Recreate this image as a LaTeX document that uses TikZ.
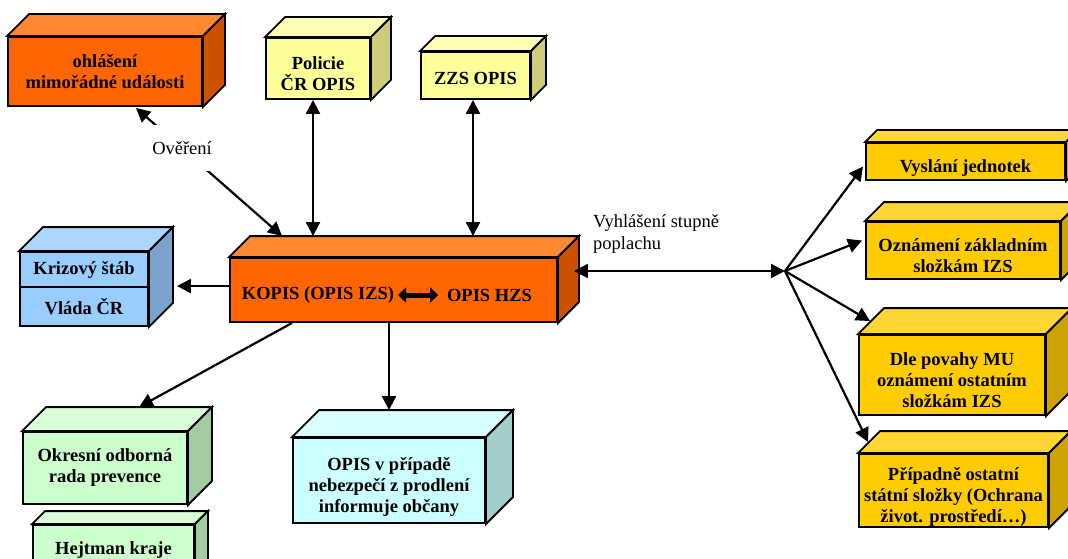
\documentclass[tikz,border=0pt]{standalone}
\usepackage{fontspec}
\setmainfont{Liberation Serif}
\usetikzlibrary{arrows.meta}

\definecolor{orng}{HTML}{FF6600}
\definecolor{orngtop}{HTML}{FF8833}
\definecolor{orngside}{HTML}{CC5200}
\definecolor{lemon}{HTML}{FFFF99}
\definecolor{lemontop}{HTML}{FFFFB3}
\definecolor{lemonside}{HTML}{CCCC7A}
\definecolor{sky}{HTML}{99CCFF}
\definecolor{skytop}{HTML}{ADD6FF}
\definecolor{skyside}{HTML}{7AA3CC}
\definecolor{mint}{HTML}{CCFFCC}
\definecolor{minttop}{HTML}{D9FFD9}
\definecolor{mintside}{HTML}{A3CCA3}
\definecolor{aqua}{HTML}{CCFFFF}
\definecolor{aquatop}{HTML}{D9FFFF}
\definecolor{aquaside}{HTML}{A3CCCC}
\definecolor{zlata}{HTML}{FFCC00}
\definecolor{zlatatop}{HTML}{FFD633}
\definecolor{zlataside}{HTML}{CCA300}

% top and side face of a box: NW corner, NE corner, SE corner, depth, colour
\newcommand{\cubefaces}[5]{%
  \filldraw[fill=#5top, line width=1.9pt] (#1) -- ([xshift=#4pt,yshift=#4pt]#1) -- ([xshift=#4pt,yshift=#4pt]#2) -- (#2) -- cycle;
  \filldraw[fill=#5side, line width=1.9pt] (#2) -- ([xshift=#4pt,yshift=#4pt]#2) -- ([xshift=#4pt,yshift=#4pt]#3) -- (#3) -- cycle;}
% pushes the text of a box a little down
\newcommand{\boxstrut}[1]{\rule{0pt}{#1}}

\begin{document}
\begin{tikzpicture}[x=1pt, y=-1pt,
    cube/.style = {draw, line width=1.9pt, inner sep=2pt, align=center,
      font=\fontsize{18.5}{21}\selectfont\bfseries},
    plain/.style = {inner sep=1pt, font=\fontsize{18.5}{22}\selectfont},
    arr/.style = {line width=2.2pt, >={Triangle[length=14pt,width=14pt]}}]
  \useasboundingbox (0,0) rectangle (1068,559);
  \clip (0,0) rectangle (1068,559);

  % boxes
  \node[cube, fill=orng, minimum width=194pt, minimum height=69pt] (ohlaseni) at (105,71.5) {ohlášení\\ mimořádné události};
  \cubefaces{ohlaseni.north west}{ohlaseni.north east}{ohlaseni.south east}{22}{orng}
  \node[cube, fill=lemon, minimum width=104pt, minimum height=61pt] (policie) at (318,68.5) {\boxstrut{24pt}Policie\\ ČR OPIS};
  \cubefaces{policie.north west}{policie.north east}{policie.south east}{20}{lemon}
  \node[cube, fill=lemon, minimum width=109pt, minimum height=47pt] (zzs) at (475.5,75.5) {\boxstrut{19pt}ZZS OPIS};
  \cubefaces{zzs.north west}{zzs.north east}{zzs.south east}{15}{lemon}

  \node[cube, fill=orng, minimum width=327pt, minimum height=64pt] (kopis) at (393.5,290) {};
  \cubefaces{kopis.north west}{kopis.north east}{kopis.south east}{21}{orng}
  \node[cube, draw=none, anchor=west] (kopisizs) at (239,295) {KOPIS (OPIS IZS)};
  \node[cube, draw=none] (opishzs) at (489.5,295) {OPIS HZS};
  \coordinate (kopistop) at ([yshift=21pt]kopis.north);

  \node[cube, fill=sky, minimum width=128pt, minimum height=35pt] (krizovy) at (84,269.5) {Krizový štáb};
  \node[cube, fill=sky, minimum width=128pt, minimum height=39pt] (vlada) at (84,306.5) {\boxstrut{16pt}Vláda ČR};
  \cubefaces{krizovy.north west}{krizovy.north east}{vlada.south east}{24}{sky}

  \node[cube, fill=mint, minimum width=164pt, minimum height=72pt] (okresni) at (105,468) {Okresní odborná\\ rada prevence};
  \cubefaces{okresni.north west}{okresni.north east}{okresni.south east}{24}{mint}
  \node[cube, fill=mint, minimum width=161pt, minimum height=50pt] (hejtman) at (113.5,550) {Hejtman kraje};
  \cubefaces{hejtman.north west}{hejtman.north east}{hejtman.south east}{13}{mint}

  \node[cube, fill=aqua, minimum width=192pt, minimum height=85pt] (opisobc) at (389,480.5) {\boxstrut{25pt}OPIS v případě\\ nebezpečí z prodlení\\ informuje občany};
  \cubefaces{opisobc.north west}{opisobc.north east}{opisobc.south east}{27}{aqua}

  \node[cube, fill=zlata, minimum width=199pt, minimum height=37pt] (vyslani) at (965.5,161.5) {\boxstrut{25pt}Vyslání jednotek};
  \cubefaces{vyslani.north west}{vyslani.north east}{vyslani.south east}{12}{zlata}
  \node[cube, fill=zlata, minimum width=194pt, minimum height=57pt] (oznameni) at (963,250.5) {\boxstrut{24pt}Oznámení základním\\ složkám IZS};
  \cubefaces{oznameni.north west}{oznameni.north east}{oznameni.south east}{19}{zlata}
  \node[cube, fill=zlata, minimum width=186pt, minimum height=80pt] (dle) at (952,375) {\boxstrut{24pt}Dle povahy MU\\ oznámení ostatním\\ složkám IZS};
  \cubefaces{dle.north west}{dle.north east}{dle.south east}{26}{zlata}
  \node[cube, fill=zlata, minimum width=189pt, minimum height=73pt,
    path picture={\node[cube, draw=none] (pripadnetext) at ([yshift=-6pt]path picture bounding box.center)
      {Případně ostatní\\ státní složky (Ochrana\\ život. prostředí…)};}] (pripadne) at (953.5,490.5) {};
  \cubefaces{pripadne.north west}{pripadne.north east}{pripadne.south east}{22}{zlata}

  % connectors
  \draw[line width=5pt, {Triangle[length=8pt,width=15pt]}-{Triangle[length=8pt,width=15pt]}] ([xshift=1pt]kopisizs.east) -- ([xshift=-6pt]opishzs.west);
  \draw[arr,<->] ([xshift=53pt,yshift=21pt]kopis.north west) -- node[pos=0.685, plain, fill=white, minimum width=70pt, minimum height=46pt] {Ověření} ([xshift=129pt,yshift=-1pt]ohlaseni.south west);
  \draw[arr,<->] ([xshift=-5pt]policie.south) -- ([xshift=-5pt]policie.south |- kopistop);
  \draw[arr,<->] ([xshift=-2.5pt]zzs.south) -- ([xshift=-2.5pt]zzs.south |- kopistop);
  \draw[arr,->] (kopis.west |- vlada.north) -- ([xshift=28pt]vlada.north east);
  \draw[arr,->] ([xshift=63pt]kopis.south west) -- ([xshift=117pt,yshift=24pt]okresni.north west);
  \draw[arr,->] (opisobc.north |- kopis.south) -- ([yshift=27pt]opisobc.north);

  \coordinate (hub) at (785,271);
  \node[plain, anchor=west, align=left] (vyhlaseni) at (592,234) {Vyhlášení stupně\\ poplachu};
  \draw[arr,<->] ([xshift=16pt]kopis.east |- hub) -- (hub);
  \draw[arr,->] (hub) -- ([xshift=-2pt,yshift=-5pt]vyslani.west);
  \draw[arr,->] (hub) -- ([xshift=-3pt,yshift=10pt]oznameni.west);
  \draw[arr,->] (hub) -- ([xshift=12pt,yshift=13pt]dle.north west);
  \draw[arr,->] (hub) -- ([xshift=10pt,yshift=11pt]pripadne.north west);
\end{tikzpicture}
\end{document}
